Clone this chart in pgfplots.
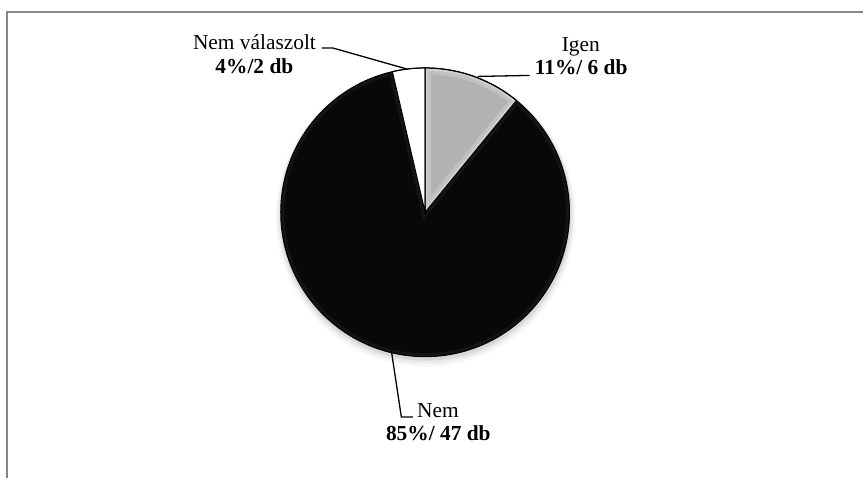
\documentclass[border=0pt]{standalone}
\usepackage{pgfplots}
\pgfplotsset{compat=1.18}
\usepackage{pgfplotstable}
\usepackage{fontspec}
\setmainfont{Liberation Serif}

\pgfplotstableread[col sep=comma]{
label,value
Igen,6
Nem,47
Nem válaszolt,2
}\piedata

\definecolor{sliceGray}{RGB}{178,178,178}
\definecolor{sliceBlack}{RGB}{8,8,8}
\definecolor{frameGray}{RGB}{135,135,135}
\newcommand\lblfont{\fontsize{21.4pt}{24pt}\selectfont}

\begin{document}
\begin{tikzpicture}[lbl/.style={inner sep=0pt, anchor=base}]
\pgfplotstablegetelem{0}{value}\of\piedata \edef\vA{\pgfplotsretval}
\pgfplotstablegetelem{1}{value}\of\piedata \edef\vB{\pgfplotsretval}
\pgfplotstablegetelem{2}{value}\of\piedata \edef\vC{\pgfplotsretval}
\pgfmathsetmacro{\tot}{\vA+\vB+\vC}
\pgfmathsetmacro{\aA}{90-\vA/\tot*360}
\pgfmathsetmacro{\aB}{\aA-\vB/\tot*360}
\pgfmathsetmacro{\aC}{\aB-\vC/\tot*360}
\def\R{144.5pt}
\begin{axis}[
  x=1pt, y=1pt,
  xmin=0, xmax=864, ymin=0, ymax=478,
  y dir=reverse,
  hide axis, clip=false,
]
\path (axis cs:0,0) rectangle (axis cs:864,478);
% frame
\draw[frameGray, line width=1.6pt] (axis cs:7,478) -- (axis cs:7,12) -- (axis cs:864,12);
% soft shadow
\fill[black, opacity=0.03] (axis cs:426,217) circle[radius=150pt];
\fill[black, opacity=0.05] (axis cs:426,216) circle[radius=148pt];
\fill[black, opacity=0.08] (axis cs:426,215) circle[radius=146pt];
% Igen slice
\fill[sliceGray] (axis cs:425.5,212.5) -- ++(90:\R) arc[start angle=90, end angle=\aA, radius=\R] -- cycle;
\begin{scope}
\clip (axis cs:425.5,212.5) -- ++(90:\R) arc[start angle=90, end angle=\aA, radius=\R] -- cycle;
\draw[white, opacity=0.2, line width=12pt] (axis cs:425.5,212.5) -- ++(90:\R) arc[start angle=90, end angle=\aA, radius=\R] -- cycle;
\draw[white, opacity=0.25, line width=5pt] (axis cs:425.5,212.5) -- ++(90:\R) arc[start angle=90, end angle=\aA, radius=\R] -- cycle;
\end{scope}
% Nem slice
\fill[sliceBlack] (axis cs:425.5,212.5) -- ++(\aA:\R) arc[start angle=\aA, end angle=\aB, radius=\R] -- cycle;
\begin{scope}
\clip (axis cs:425.5,212.5) -- ++(\aA:\R) arc[start angle=\aA, end angle=\aB, radius=\R] -- cycle;
\draw[white, opacity=0.05, line width=7pt] (axis cs:425.5,212.5) -- ++(\aA:\R) arc[start angle=\aA, end angle=\aB, radius=\R] -- cycle;
\end{scope}
% Nem valaszolt slice
\fill[white] (axis cs:425.5,212.5) -- ++(\aB:\R) arc[start angle=\aB, end angle=\aC, radius=\R] -- cycle;
% outlines
\draw[black, line width=1pt] (axis cs:425.5,212.5) -- ++(90:\R) arc[start angle=90, end angle=\aA, radius=\R] -- cycle;
\draw[black, line width=1pt] (axis cs:425.5,212.5) -- ++(\aB:\R) arc[start angle=\aB, end angle=\aC, radius=\R] -- cycle;
\draw[black, line width=1pt] (axis cs:425.5,212.5) circle[radius=\R];
% leader lines
\draw[black, line width=1.3pt] (axis cs:322,48) -- (axis cs:333,48) -- (axis cs:407,69);
\draw[black, line width=1.3pt] (axis cs:478,76.5) -- (axis cs:530,75.5);
\draw[black, line width=1.3pt] (axis cs:391.7,351) -- (axis cs:401.7,417.3) -- (axis cs:413.3,417.3);
% labels
\node[lbl] at (axis cs:254.7,49.3) {\lblfont Nem válaszolt};
\node[lbl] at (axis cs:254.6,73.3) {\lblfont\bfseries 4\%/2 db};
\node[lbl] at (axis cs:581.3,51.7) {\lblfont Igen};
\node[lbl] at (axis cs:581.7,75) {\lblfont\bfseries 11\%/ 6 db};
\node[lbl] at (axis cs:438.3,418.3) {\lblfont Nem};
\node[lbl] at (axis cs:438.7,441) {\lblfont\bfseries 85\%/ 47 db};
\end{axis}
\end{tikzpicture}
\end{document}
